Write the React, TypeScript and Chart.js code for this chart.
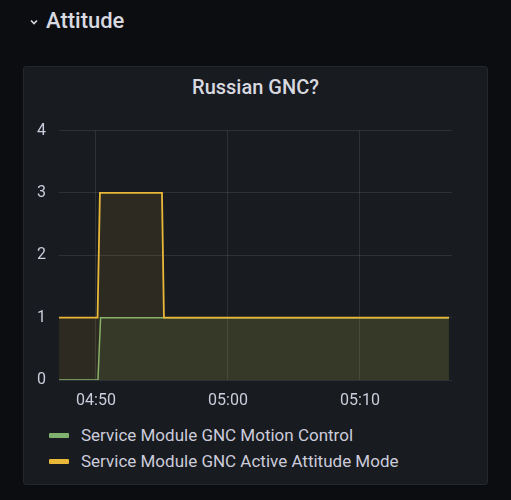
import React, { useEffect, useRef } from "react";
import { Chart, registerables } from "chart.js";

Chart.register(...registerables);

// time in minutes since midnight
const motionX = [287.2, 290.15, 290.35, 316.74];
const motionY = [0, 0, 1, 1];
const modeX = [287.2, 290.12, 290.3, 295.0, 295.15, 316.74];
const modeY = [1, 1, 3, 3, 1, 1];
const xTicks = [290, 300, 310];
const yTicks = [0, 1, 2, 3, 4];
const seriesNames = ["Service Module GNC Motion Control", "Service Module GNC Active Attitude Mode"];
const seriesColors = ["#7EB26D", "#EAB839"];
const fillColors = ["rgba(126,178,109,0.1)", "rgba(234,184,57,0.1)"];

const fmt = (v: number) => {
  const h = Math.floor(v / 60);
  const m = Math.round(v - h * 60);
  return String(h).padStart(2, "0") + ":" + String(m).padStart(2, "0");
};

const FONT = "Roboto, 'Noto Sans', sans-serif";
const TEXT = "#ccccdc";

export default function App() {
  const ref = useRef<HTMLCanvasElement | null>(null);
  useEffect(() => {
    document.body.style.margin = "0";
    document.body.style.background = "#0c0d10";
    const ctx = ref.current!;
    const chart = new Chart(ctx, {
      type: "line",
      data: {
        datasets: [
          {
            label: seriesNames[0],
            data: motionX.map((x, i) => ({ x, y: motionY[i] })),
            borderColor: seriesColors[0],
            backgroundColor: fillColors[0],
            borderWidth: 1.5,
            fill: "origin",
            pointRadius: 0,
            tension: 0,
            order: 2,
          },
          {
            label: seriesNames[1],
            data: modeX.map((x, i) => ({ x, y: modeY[i] })),
            borderColor: seriesColors[1],
            backgroundColor: fillColors[1],
            borderWidth: 1.8,
            fill: "origin",
            pointRadius: 0,
            tension: 0,
            order: 1,
          },
        ],
      },
      options: {
        responsive: false,
        animation: false,
        layout: { padding: { top: 0, right: 35, left: 0, bottom: 0 } },
        plugins: { legend: { display: false }, tooltip: { enabled: false }, title: { display: false } },
        scales: {
          x: {
            type: "linear",
            min: 287.2,
            max: 316.97,
            afterFit: (s: any) => { s.height = 35; },
            afterBuildTicks: (s: any) => { s.ticks = xTicks.map((v) => ({ value: v })); },
            grid: { color: "rgba(240,250,255,0.1)", drawTicks: false, lineWidth: 1 },
            border: { display: false },
            ticks: {
              color: TEXT,
              font: { family: FONT, size: 16 },
              padding: 11,
              maxRotation: 0,
              callback: (v: any) => fmt(Number(v)),
            },
          },
          y: {
            min: 0,
            max: 4,
            afterFit: (s: any) => { s.width = 35; },
            afterBuildTicks: (s: any) => { s.ticks = yTicks.map((v) => ({ value: v })); },
            grid: { color: "rgba(240,250,255,0.1)", drawTicks: false, lineWidth: 1 },
            border: { display: false },
            ticks: {
              color: TEXT,
              font: { family: FONT, size: 16 },
              padding: 13,
            },
          },
        },
      },
    } as any);
    return () => chart.destroy();
  }, []);

  return (
    <div style={{ position: "relative", width: 511, height: 500, background: "#0c0d10", fontFamily: FONT, overflow: "hidden" }}>
      <div style={{ position: "absolute", left: 28, top: 6, color: "#d8d9e0", fontSize: 22, fontWeight: 500, display: "flex", alignItems: "center" }}>
        <svg width="12" height="12" viewBox="0 0 12 12" style={{ marginRight: 6, marginTop: 2 }}>
          <path d="M3 4.5 L6 7.5 L9 4.5" stroke="#d8d9e0" strokeWidth="1.6" fill="none" />
        </svg>
        <span style={{ lineHeight: "30px" }}>Attitude</span>
      </div>
      <div style={{ position: "absolute", left: 23, top: 66, width: 463, height: 417, background: "#181b1f", border: "1px solid #25272c", borderRadius: 3 }} />
      <div style={{ position: "absolute", left: 23, top: 73, width: 465, textAlign: "center", color: "#d8d9e0", fontSize: 20, fontWeight: 500, lineHeight: "28px" }}>
        Russian GNC?
      </div>
      <canvas ref={ref} width={463} height={307} style={{ position: "absolute", left: 24, top: 108, width: 463, height: 307 }} />
      {seriesNames.map((n, i) => (
        <div key={n} style={{ position: "absolute", left: 49, top: 422 + i * 26, height: 26, display: "flex", alignItems: "center", color: TEXT, fontSize: 17, whiteSpace: "nowrap" }}>
          <span style={{ display: "inline-block", width: 20, height: 5, background: seriesColors[i], borderRadius: 1, marginRight: 12 }} />
          {n}
        </div>
      ))}
    </div>
  );
}
